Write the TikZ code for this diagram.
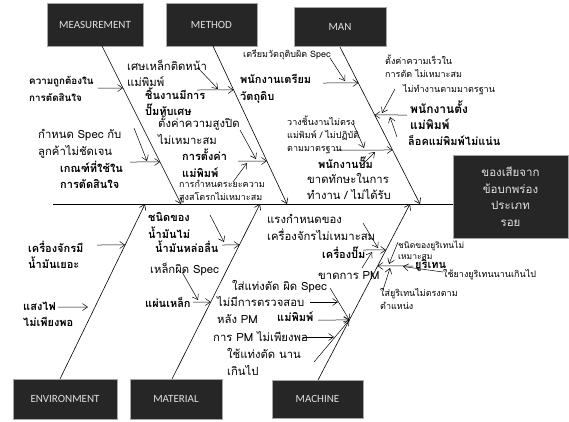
\documentclass[tikz,border=0pt]{standalone}
\usepackage{fontspec}
\usetikzlibrary{calc,arrows.meta}
\newfontfamily\thai[Script=Thai]{Loma}
\newfontfamily\boxf{Carlito}
\begin{document}
\begin{tikzpicture}[x=1pt,y=-1pt,
  bone/.style={line width=0.6pt,-{Straight Barb[length=5pt,width=7pt]}},
  arr/.style={line width=0.5pt,-{Straight Barb[length=5pt,width=7pt]}},
  catbox/.style={draw=gray!70,fill=black!85,text=white!88!black,font=\boxf\fontsize{11}{13}\selectfont,inner sep=0pt},
  tb/.style={font=\thai\bfseries\fontsize{11}{16.5}\selectfont,anchor=west,align=left,inner sep=0pt},
  tr/.style={font=\thai\fontsize{11.3}{16.5}\selectfont,anchor=west,align=left,inner sep=0pt},
  ts/.style={font=\thai\fontsize{9}{13}\selectfont,anchor=west,align=left,inner sep=0pt}]
\useasboundingbox (0,0) rectangle (569,421);
% category boxes
\node[catbox,minimum width=96pt,minimum height=43pt] (meas) at (95,24.5) {MEASUREMENT};
\node[catbox,minimum width=91pt,minimum height=43pt] (meth) at (211.5,24.5) {METHOD};
\node[catbox,minimum width=92pt,minimum height=39pt] (man) at (340,26.5) {MAN};
\node[catbox,minimum width=104pt,minimum height=40pt] (env) at (65,399) {ENVIRONMENT};
\node[catbox,minimum width=92pt,minimum height=40pt] (mat) at (176,399) {MATERIAL};
\node[catbox,minimum width=91pt,minimum height=38pt] (mac) at (317.5,399) {MACHINE};
\node[catbox,minimum width=115pt,minimum height=83pt,align=center,font=\thai\fontsize{11.5}{16.5}\selectfont] (eff) at (510.5,196.5) {ของเสียจาก\\ข้อบกพร่อง\\ประเภท\\รอย};
% spine
\coordinate (spL) at (53,204);
\draw[line width=0.6pt] (spL) -- (spL -| eff.west);
% bones
\coordinate (mT) at (102,46);  \coordinate (mB) at (181,204);
\coordinate (tT) at (213,46);  \coordinate (tB) at (287,204);
\coordinate (nT) at (340,47);  \coordinate (nB) at (420,204);
\coordinate (eB) at (60,379);  \coordinate (eT) at (145,204);
\coordinate (aB) at (172,379); \coordinate (aT) at (260,204);
\coordinate (cB) at (318,380); \coordinate (cT) at (410,204);
\draw[bone] (mT) -- (mB);
\draw[bone] (tT) -- (tB);
\draw[bone] (nT) -- (nB);
\draw[bone] (eB) -- (eT);
\draw[bone] (aB) -- (aT);
\draw[bone] (cB) -- (cT);
% points on bones
\coordinate (mA1) at ($(mT)!0.266!(mB)$);
\coordinate (mA2) at ($(mT)!0.734!(mB)$);
\coordinate (tA1) at ($(tT)!0.278!(tB)$);
\coordinate (tA2) at ($(tT)!0.728!(tB)$);
\coordinate (nA1) at ($(nT)!0.229!(nB)$);
\coordinate (nA2) at ($(nT)!0.433!(nB)$);
\coordinate (nA3) at ($(nT)!0.656!(nB)$);
\coordinate (eA1) at ($(eB)!0.766!(eT)$);
\coordinate (eA2) at ($(eB)!0.411!(eT)$);
\coordinate (aA1) at ($(aB)!0.766!(aT)$);
\coordinate (aA2) at ($(aB)!0.44!(aT)$);
\coordinate (cA1) at ($(cB)!0.739!(cT)$);
\coordinate (cA2) at ($(cB)!0.648!(cT)$);
\coordinate (cA3) at ($(cB)!0.341!(cT)$);
% ---------- MEASUREMENT texts
\node[tb,font=\thai\bfseries\fontsize{9.8}{17}\selectfont] (m1) at (29,88.5) {ความถูกต้องใน\\การตัดสินใจ};
\node[tr] (m2) at (38,144) {กำหนด Spec กับ\\ลูกค้าไม่ชัดเจน};
\node[tb] (m3) at (60,175) {เกณฑ์ที่ใช้ใน\\การตัดสินใจ};
\coordinate (m1s) at (98,88);
\coordinate (m3s) at (130,162);
\coordinate (m2s) at (134,128); \coordinate (m2e) at (147,161);
\draw[arr] (m1s) -- (mA1);
\draw[arr] (m3s) -- (mA2);
\draw[arr] (m2s) -- (m2e);
% ---------- METHOD texts
\node[tr] (b1x) at (127,73.5) {เศษเหล็กติดหน้า\\แม่พิมพ์};
\node[tb] (b1) at (145,101.5) {ชิ้นงานมีการ\\ปั๊มทับเศษ};
\node[tr] (b2a) at (158,130) {ตั้งค่าความสูงปิด\\ไม่เหมาะสม};
\node[tb] (b2) at (182,163) {การตั้งค่า\\แม่พิมพ์};
\node[ts] (b2b) at (179,191.5) {การกำหนดระยะความ\\สูงสโตรกไม่เหมาะสม};
\coordinate (b1s) at (197,90);
\coordinate (b2s) at (238,161);
\coordinate (b1xs) at (198,68); \coordinate (b1xe) at (218,89);
\coordinate (b2as) at (240,130); \coordinate (b2ae) at (256,159);
\coordinate (b2bs) at (233,182); \coordinate (b2be) at (247,163);
\draw[arr] (b1s) -- (tA1);
\draw[arr] (b2s) -- (tA2);
\draw[arr] (b1xs) -- (b1xe);
\draw[arr] (b2as) -- (b2ae);
\draw[arr] (b2bs) -- (b2be);
% ---------- MAN texts
\node[ts] (c1x) at (243,55) {เตรียมวัตถุดิบผิด Spec};
\node[tb] (c1) at (240,89) {พนักงานเตรียม\\วัตถุดิบ};
\node[ts] (c2x) at (385,66) {ตั้งค่าความเร็วใน\\การตัด ไม่เหมาะสม};
\node[ts] (c2a) at (403,90) {ไม่ทำงานตามมาตรฐาน};
\node[tb,font=\thai\bfseries\fontsize{12}{16}\selectfont] (c2) at (410,115) {พนักงานตั้ง\\แม่พิมพ์};
\node[tb] (c2b) at (408,140) {ล็อคแม่พิมพ์ไม่แน่น};
\node[ts] (c3a) at (287,135) {วางชิ้นงานไม่ตรง\\แม่พิมพ์ / ไม่ปฏิบัติ\\ตามมาตรฐาน};
\node[tb] (c3) at (318,163) {พนักงานปั๊ม};
\node[tr] (c3b) at (307,186.5) {ขาดทักษะในการ\\ทำงาน / ไม่ได้รับ};
\coordinate (c1s) at (323,83);
\coordinate (c2s) at (407,115);
\coordinate (c3s) at (333,150);
\coordinate (c1xs) at (330,58); \coordinate (c1xe) at (345,81);
\coordinate (c2as) at (395,89); \coordinate (c2ae) at (382,113);
\coordinate (c2bs) at (397,137); \coordinate (c2be) at (390,117);
\coordinate (c3as) at (353,123); \coordinate (c3ae) at (364,148);
\coordinate (c3bs) at (361,166); \coordinate (c3be) at (375,152);
\draw[arr] (c1s) -- (nA1);
\draw[arr] (c2s) -- (nA2);
\draw[arr] (c3s) -- (nA3);
\draw[arr] (c1xs) -- (c1xe);
\draw[arr] (c2as) -- (c2ae);
\draw[arr] (c2bs) -- (c2be);
\draw[arr] (c3as) -- (c3ae);
\draw[arr] (c3bs) -- (c3be);
% ---------- ENVIRONMENT texts
\node[tb] (d1) at (28,255) {เครื่องจักรมี\\น้ำมันเยอะ};
\node[tb] (d2) at (23,314.5) {แสงไฟ\\ไม่เพียงพอ};
\coordinate (d1s) at (97,245);
\coordinate (d2s) at (58,307);
\draw[arr] (d1s) -- (eA1);
\draw[arr,shorten >=7pt] (d2s) -- (eA2);
% ---------- MATERIAL texts
\node[tb] (e1x) at (148,225.5) {ชนิดของ\\น้ำมันไม่};
\node[tb] (e1) at (155,247) {น้ำมันหล่อลื่น};
\node[tr] (e2x) at (150,269) {เหล็กผิด Spec};
\node[tb] (e2) at (145,302) {แผ่นเหล็ก};
\coordinate (e1s) at (222,245);
\coordinate (e2s) at (193,302);
\coordinate (e1xs) at (210,215); \coordinate (e1xe) at (224,242);
\coordinate (e2xs) at (182,272); \coordinate (e2xe) at (198,300);
\draw[arr] (e1s) -- (aA1);
\draw[arr] (e2s) -- (aA2);
\draw[arr] (e1xs) -- (e1xe);
\draw[arr] (e2xs) -- (e2xe);
% ---------- MACHINE texts
\node[tr] (f1a) at (267,227.5) {แรงกำหนดของ\\เครื่องจักรไม่เหมาะสม};
\node[tb] (f1) at (322,253) {เครื่องปั๊ม};
\node[tr] (f1b) at (318,276) {ขาดการ PM};
\node[ts,font=\thai\fontsize{8.5}{11}\selectfont] (f2a) at (398,250) {ชนิดของยูริเทนไม่\\เหมาะสม};
\node[tb] (f2) at (415,265) {ยูริเทน};
\node[ts] (f2b) at (443,275) {ใช้ยางยูริเทนนานเกินไป};
\node[ts] (f2c) at (380,298.5) {ใส่ยูริเทนไม่ตรงตาม\\ตำแหน่ง};
\node[tr] (f3a) at (232,287) {ใส่แท่งตัด ผิด Spec};
\node[tr] (f3c) at (217,310) {ไม่มีการตรวจสอบ\\หลัง PM};
\node[tb] (f3) at (277,317) {แม่พิมพ์};
\node[tr] (f3d) at (213,336) {การ PM ไม่เพียงพอ};
\node[tr] (f3b) at (227,362) {ใช้แท่งตัด นาน\\เกินไป};
\coordinate (f1s) at (363,250);
\coordinate (f2s) at (413,266);
\coordinate (f3s) at (318,320);
\coordinate (f1as) at (363,223); \coordinate (f1ae) at (378,248);
\coordinate (f1bs) at (362,268); \coordinate (f1be) at (372,252);
\coordinate (f2as) at (398,242); \coordinate (f2ae) at (389,264);
\coordinate (f2bs) at (443,272); \coordinate (f2be) at (403,266.5);
\coordinate (f2cs) at (383,290); \coordinate (f2ce) at (390,268);
\coordinate (f3as) at (330,288);
\coordinate (f3bs) at (314,362);
\coordinate (f3cs) at (310,302); \coordinate (f3ce) at (338,302);
\coordinate (f3ds) at (303,337); \coordinate (f3de) at (334,337);
\draw[arr] (f1s) -- (cA1);
\draw[arr] (f2s) -- (cA2);
\draw[arr] (f3s) -- (cA3);
\draw[arr] (f1as) -- (f1ae);
\draw[arr] (f1bs) -- (f1be);
\draw[arr] (f2as) -- (f2ae);
\draw[arr] (f2bs) -- (f2be);
\draw[arr] (f2cs) -- (f2ce);
\draw[arr] (f3as) -- (cA3);
\draw[arr] (f3bs) -- (cA3);
\draw[arr] (f3cs) -- (f3ce);
\draw[arr] (f3ds) -- (f3de);
\end{tikzpicture}
\end{document}
